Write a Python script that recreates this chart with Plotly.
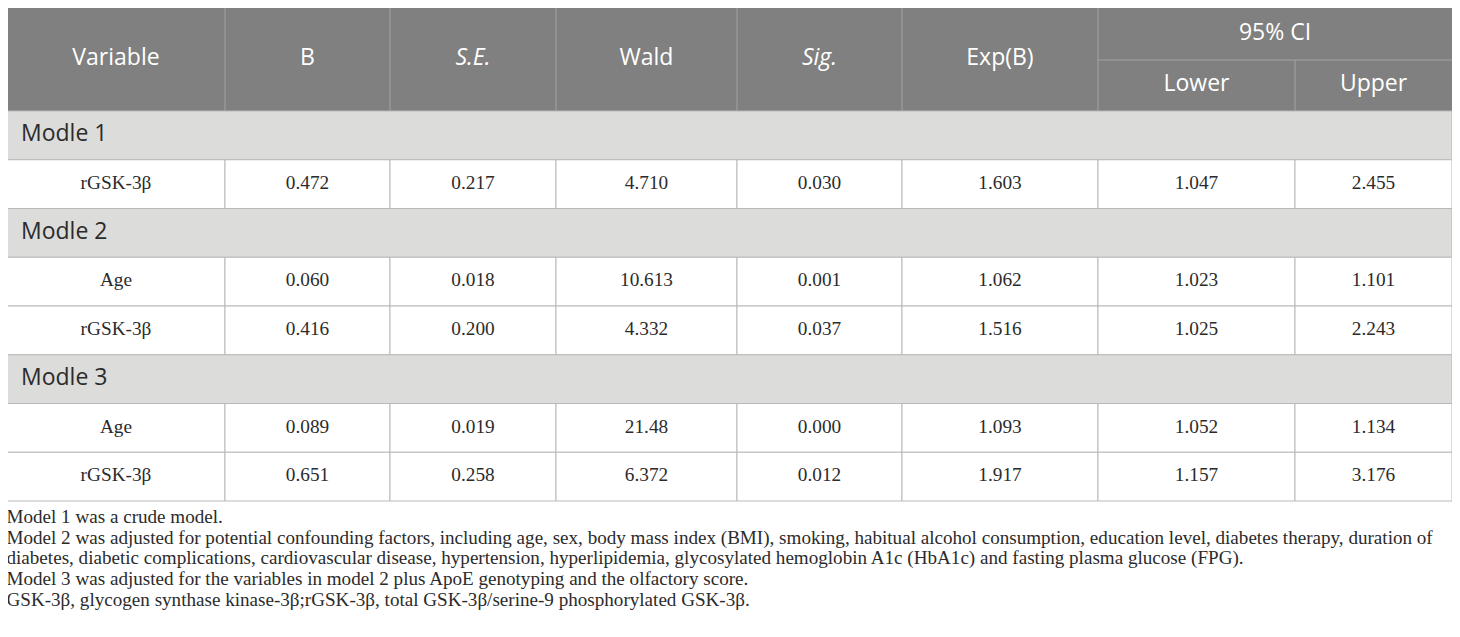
import plotly.graph_objects as go

# table content
columns = ["Variable", "B", "<i>S.E.</i>", "Wald", "<i>Sig.</i>", "Exp(B)"]
ci_group = "95% CI"
ci_columns = ["Lower", "Upper"]

models = ["Modle 1", "Modle 2", "Modle 3"]
row_model = [0, 1, 1, 2, 2]
variable = ["rGSK-3β", "Age", "rGSK-3β", "Age", "rGSK-3β"]
b = ["0.472", "0.060", "0.416", "0.089", "0.651"]
se = ["0.217", "0.018", "0.200", "0.019", "0.258"]
wald = ["4.710", "10.613", "4.332", "21.48", "6.372"]
sig = ["0.030", "0.001", "0.037", "0.000", "0.012"]
exp_b = ["1.603", "1.062", "1.516", "1.093", "1.917"]
ci_lower = ["1.047", "1.023", "1.025", "1.052", "1.157"]
ci_upper = ["2.455", "1.101", "2.243", "1.134", "3.176"]

footnotes = [
    "Model 1 was a crude model.",
    "Model 2 was adjusted for potential confounding factors, including age, sex, body mass index (BMI), smoking, habitual alcohol consumption, education level, diabetes therapy, duration of",
    "diabetes, diabetic complications, cardiovascular disease, hypertension, hyperlipidemia, glycosylated hemoglobin A1c (HbA1c) and fasting plasma glucose (FPG).",
    "Model 3 was adjusted for the variables in model 2 plus ApoE genotyping and the olfactory score.",
    "GSK-3β, glycogen synthase kinase-3β;rGSK-3β, total GSK-3β/serine-9 phosphorylated GSK-3β.",
]

# geometry (page pixels; the page body has an 8px margin, so axes are shifted by it)
W, H = 1460, 637
PAGE_OFF = 8
col_edges = [7, 225, 390, 556, 737, 902, 1098, 1295, 1452]
head_top, head_mid, head_bot = 7, 60, 111
row_h = 48.75
foot_y0, foot_dy = 518, 20.8

HEAD_FILL = "#808080"
HEAD_LINE = "#a3a3a3"
SECT_FILL = "#dcdcdb"
BODY_LINE = "#b9b9b9"
TEXT = "#2b2b2b"
SANS = "Open Sans"
SERIF = "Liberation Serif"

# build ordered rows: section rows followed by their variable rows
body_rows = []
for m, name in enumerate(models):
    body_rows.append(("section", name))
    for i, rm in enumerate(row_model):
        if rm == m:
            body_rows.append(("data", i))

shapes = []


def rect(x0, y0, x1, y1, fill, line_color, width=1):
    shapes.append(dict(type="rect", xref="x", yref="y", x0=x0, y0=y0, x1=x1, y1=y1,
                       fillcolor=fill, line=dict(color=line_color, width=width), layer="below"))


def line(x0, y0, x1, y1, color, width=1):
    shapes.append(dict(type="line", xref="x", yref="y", x0=x0, y0=y0, x1=x1, y1=y1,
                       line=dict(color=color, width=width), layer="below"))


# header block
rect(col_edges[0], head_top, col_edges[-1], head_bot, HEAD_FILL, HEAD_FILL)
for x in col_edges[1:-1]:
    y_start = head_mid if x == col_edges[7] else head_top
    line(x, y_start, x, head_bot, HEAD_LINE)
line(col_edges[6], head_mid, col_edges[8], head_mid, HEAD_LINE)

head_x, head_y, head_t = [], [], []
for j, name in enumerate(columns):
    head_x.append((col_edges[j] + col_edges[j + 1]) / 2)
    head_y.append((head_top + head_bot) / 2)
    head_t.append(name)
head_x.append((col_edges[6] + col_edges[8]) / 2)
head_y.append((head_top + head_mid) / 2 + 1)
head_t.append(ci_group)
for k, name in enumerate(ci_columns):
    head_x.append((col_edges[6 + k] + col_edges[7 + k]) / 2)
    head_y.append((head_mid + head_bot) / 2)
    head_t.append(name)

# body
data_cols = [variable, b, se, wald, sig, exp_b, ci_lower, ci_upper]
sect_x, sect_y, sect_t = [], [], []
cell_x, cell_y, cell_t = [], [], []
y = head_bot
for kind, item in body_rows:
    y0, y1 = y, y + row_h
    if kind == "section":
        rect(col_edges[0], y0, col_edges[-1], y1, SECT_FILL, BODY_LINE)
        sect_x.append(col_edges[0] + 14)
        sect_y.append((y0 + y1) / 2)
        sect_t.append(item)
    else:
        for j, col in enumerate(data_cols):
            rect(col_edges[j], y0, col_edges[j + 1], y1, "white", BODY_LINE)
            cell_x.append((col_edges[j] + col_edges[j + 1]) / 2)
            cell_y.append((y0 + y1) / 2)
            cell_t.append(col[item])
    y = y1

foot_x = [col_edges[0] - 0.5] * len(footnotes)
foot_yy = [foot_y0 + k * foot_dy for k in range(len(footnotes))]

fig = go.Figure()
fig.add_trace(go.Scatter(x=head_x, y=head_y, text=head_t, mode="text",
                         textposition="middle center",
                         textfont=dict(family=SANS, size=23, color="white"), hoverinfo="skip"))
fig.add_trace(go.Scatter(x=sect_x, y=sect_y, text=sect_t, mode="text",
                         textposition="middle right",
                         textfont=dict(family=SANS, size=23, color=TEXT), hoverinfo="skip"))
fig.add_trace(go.Scatter(x=cell_x, y=cell_y, text=cell_t, mode="text",
                         textposition="middle center",
                         textfont=dict(family=SERIF, size=19.3, color=TEXT), hoverinfo="skip"))
fig.add_trace(go.Scatter(x=foot_x, y=foot_yy, text=footnotes, mode="text",
                         textposition="middle right",
                         textfont=dict(family=SERIF, size=19.1, color=TEXT), hoverinfo="skip"))

fig.update_layout(
    width=W, height=H,
    margin=dict(l=0, r=0, t=0, b=0),
    paper_bgcolor="white", plot_bgcolor="white",
    showlegend=False,
    shapes=shapes,
    xaxis=dict(range=[PAGE_OFF, W + PAGE_OFF], visible=False, fixedrange=True),
    yaxis=dict(range=[H + PAGE_OFF, PAGE_OFF], visible=False, fixedrange=True),
)

fig.write_html("out.html")
